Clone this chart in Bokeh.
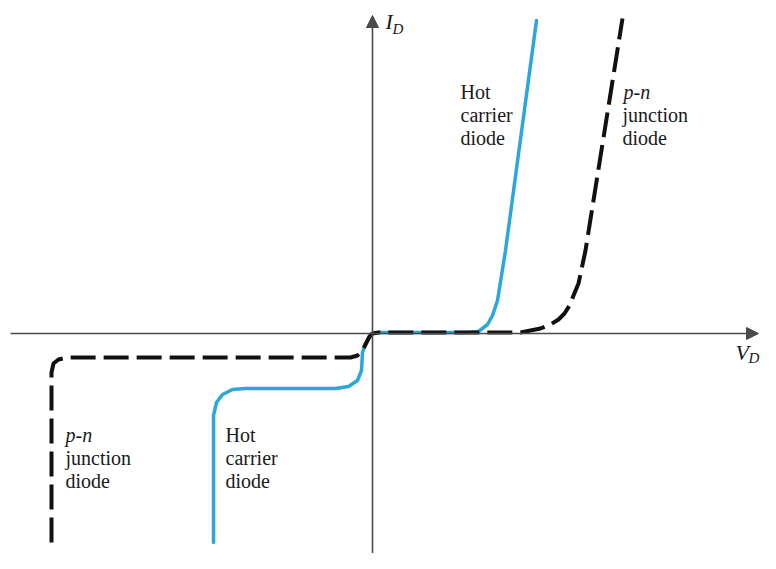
from bokeh.plotting import figure
from bokeh.models import Arrow, NormalHead, ColumnDataSource
from bokeh.core.properties import value
from bokeh.embed import file_html
from bokeh.resources import INLINE

# ---- data (schematic units: V_D horizontal, I_D vertical) ----
hot_v = [-1.59, -1.59, -1.56, -1.50, -1.40, -1.27, -0.37, -0.24, -0.15, -0.11, -0.10, -0.07, -0.03,
         0.00, 0.06, 0.18, 0.96, 1.06, 1.15, 1.20, 1.25, 1.33, 1.64]
hot_i = [-2.09, -0.82, -0.69, -0.61, -0.56, -0.55, -0.55, -0.53, -0.47, -0.37, -0.19, -0.10, -0.04,
         0.00, 0.01, 0.01, 0.01, 0.02, 0.09, 0.18, 0.33, 0.83, 3.13]

pn_v = [-3.21, -3.21, -3.19, -3.14, -3.06, -0.22, -0.15, -0.10, -0.06, -0.03,
        0.00, 0.06, 1.48, 1.58, 1.68, 1.78, 1.86, 1.92, 1.97, 2.01, 2.06, 2.13, 2.50]
pn_i = [-2.09, -0.39, -0.30, -0.26, -0.24, -0.24, -0.22, -0.17, -0.09, -0.03,
        0.00, 0.01, 0.01, 0.03, 0.05, 0.09, 0.14, 0.20, 0.28, 0.38, 0.50, 0.83, 3.15]

# axis extents
v_axis = [-3.62, 3.86]
i_axis = [-2.40, 3.18]

# annotation labels
lbl_text = ["Hot", "carrier", "diode",
            "junction", "diode",
            "junction", "diode",
            "Hot", "carrier", "diode"]
lbl_x = [0.88, 0.88, 0.88,
         2.50, 2.50,
         -3.07, -3.07,
         -1.47, -1.47, -1.47]
lbl_y = [2.42, 2.19, 1.96,
         2.19, 1.96,
         -1.24, -1.47,
         -1.01, -1.24, -1.47]
pn_lbl_x = [2.51, -3.07]
pn_lbl_y = [2.42, -1.01]

p = figure(width=760, height=553, x_range=(-3.72, 3.88), y_range=(-2.20, 3.33),
           output_backend="svg", toolbar_location=None, min_border=0)
p.axis.visible = False
p.grid.visible = False
p.outline_line_color = None
p.background_fill_color = "white"
p.border_fill_color = "white"

axis_col = "#4a4a4a"
p.add_layout(Arrow(end=NormalHead(size=12, fill_color=axis_col, line_color=axis_col),
                   x_start=v_axis[0], y_start=0, x_end=v_axis[1], y_end=0,
                   line_width=1.6, line_color=axis_col))
p.add_layout(Arrow(end=NormalHead(size=12, fill_color=axis_col, line_color=axis_col),
                   x_start=0, y_start=i_axis[0], x_end=0, y_end=i_axis[1],
                   line_width=1.6, line_color=axis_col))

p.line(hot_v, hot_i, line_color="#2aa7de", line_width=3.5, line_join="round", line_cap="round")
p.line(pn_v, pn_i, line_color="#111111", line_width=4, line_dash="25 8", line_join="round")

src = ColumnDataSource(dict(x=lbl_x, y=lbl_y, t=lbl_text))
p.text(x="x", y="y", text="t", source=src, text_font=value("Liberation Serif"),
       text_font_size="20px", text_color="#1a1a1a", text_baseline="alphabetic", text_align="left")
p.text(x=pn_lbl_x, y=pn_lbl_y, text=["p-n", "p-n"], text_font=value("Liberation Serif"),
       text_font_size="20px", text_font_style="italic", text_color="#1a1a1a",
       text_baseline="alphabetic", text_align="left")

# axis titles
p.text(x=[0.13, 3.63], y=[3.12, -0.19], text=["I", "V"], text_font=value("Liberation Serif"),
       text_font_size="22px", text_font_style="italic", text_color="#1a1a1a",
       text_baseline="alphabetic", text_align="left")
p.text(x=[0.20, 3.76], y=[3.05, -0.24], text=["D", "D"], text_font=value("Liberation Serif"),
       text_font_size="15px", text_font_style="italic", text_color="#1a1a1a",
       text_baseline="alphabetic", text_align="left")

open("out.html", "w").write(file_html(p, INLINE))
